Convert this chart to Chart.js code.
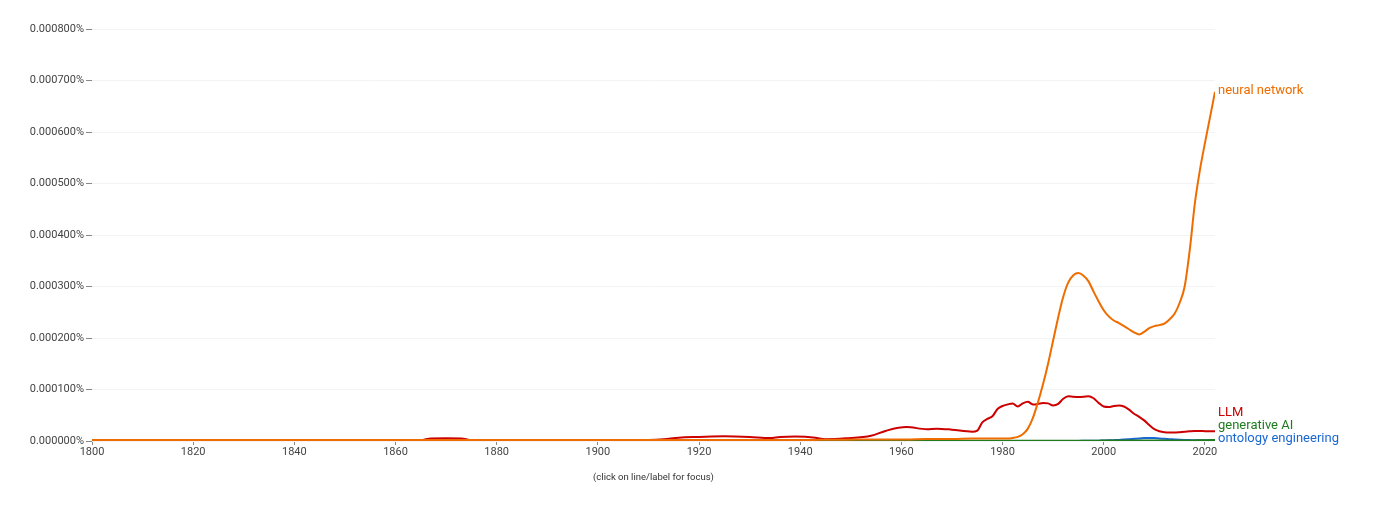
<!DOCTYPE html>
<html>
<head>
<meta charset="utf-8">
<script src="https://cdn.jsdelivr.net/npm/chart.js@4/dist/chart.umd.min.js"></script>
<style>
  html, body { margin: 0; padding: 0; background: #fff; }
  #wrap { width: 1400px; height: 517px; }
</style>
</head>
<body>
<div id="wrap"><canvas id="ngram" width="1400" height="517"></canvas></div>
<script>
// years (denser where the curves move)
const years = [
  1800, 1810, 1820, 1830, 1840, 1850, 1860, 1865, 1867, 1870, 1873, 1875, 1880, 1890,
  1900, 1905, 1910, 1913, 1916, 1920, 1925, 1930, 1934, 1936, 1939, 1941, 1943, 1945, 1949,
  1954, 1957, 1961, 1965, 1967, 1970, 1974, 1975, 1976, 1977, 1978, 1979,
  1980, 1981, 1982, 1983, 1984, 1985, 1986, 1987, 1988, 1989, 1990, 1991, 1992, 1993, 1994, 1995, 1996, 1997, 1998, 1999,
  2000, 2001, 2002, 2003, 2004, 2005, 2006, 2007, 2008, 2009, 2010, 2011, 2012, 2013, 2014, 2015, 2016, 2017, 2018, 2019, 2020, 2021, 2022
];

// values in percent
const neuralNetwork = [
  0.000002, 0.000002, 0.000002, 0.000002, 0.000002, 0.000002, 0.000002, 0.000002, 0.000002, 0.000002, 0.000002, 0.000002, 0.000002, 0.000002,
  0.000002, 0.000002, 0.000002, 0.000002, 0.000002, 0.000002, 0.000002, 0.000002, 0.000002, 0.000002, 0.000002, 0.000002, 0.000002, 0.0000025, 0.0000025,
  0.000003, 0.000003, 0.000003, 0.000004, 0.000004, 0.000004, 0.000005, 0.000005, 0.000005, 0.000005, 0.000005, 0.000005,
  0.000005, 0.000005, 0.000006, 0.000008, 0.000013, 0.000024, 0.000045, 0.000075, 0.000110, 0.000150, 0.000195, 0.000240, 0.000280, 0.000308, 0.000322, 0.000326, 0.000321, 0.000310, 0.000290, 0.000271,
  0.000254, 0.000242, 0.000234, 0.000229, 0.000223, 0.000217, 0.000211, 0.000207, 0.000212, 0.000219, 0.000223, 0.000225, 0.000228, 0.000236, 0.000247, 0.000268, 0.000300, 0.000370, 0.000460, 0.000525, 0.000578, 0.000628, 0.000678
];

const llm = [
  0.0000015, 0.0000015, 0.0000015, 0.0000015, 0.0000015, 0.0000015, 0.0000015, 0.0000015, 0.000005, 0.0000052, 0.000005, 0.0000015, 0.0000015, 0.0000012,
  0.0000012, 0.0000015, 0.000002, 0.0000035, 0.0000065, 0.0000078, 0.000009, 0.0000078, 0.0000058, 0.0000078, 0.0000088, 0.0000082, 0.0000065, 0.0000035, 0.0000052,
  0.00001, 0.00002, 0.000027, 0.000023, 0.000024, 0.000022, 0.000018, 0.00002, 0.000036, 0.000043, 0.000048, 0.000062,
  0.000068, 0.000071, 0.000073, 0.000067, 0.000073, 0.000076, 0.000071, 0.000072, 0.000074, 0.000073, 0.000069, 0.000072, 0.000082, 0.000087, 0.000086, 0.0000855, 0.000086, 0.000087, 0.000083, 0.000074,
  0.000067, 0.000066, 0.000068, 0.000069, 0.000067, 0.000061, 0.000053, 0.000047, 0.000040, 0.000031, 0.000023, 0.000019, 0.000017, 0.0000165, 0.0000165, 0.000017, 0.0000178, 0.0000188, 0.0000194, 0.0000194, 0.000019, 0.0000188, 0.0000188
];

const generativeAI = [
  0, 0, 0, 0, 0, 0, 0, 0, 0, 0, 0, 0, 0, 0,
  0, 0, 0, 0, 0, 0, 0, 0, 0, 0, 0, 0, 0, 0, 0,
  0, 0, 0, 0, 0, 0, 0.0000005, 0.0000005, 0.0000005, 0.0000005, 0.0000005, 0.0000005,
  0.0000006, 0.0000006, 0.0000006, 0.0000006, 0.0000006, 0.0000006, 0.0000006, 0.0000006, 0.0000006, 0.0000006, 0.0000006, 0.0000006, 0.0000006, 0.0000006, 0.0000006, 0.0000006, 0.0000006, 0.0000006, 0.0000006, 0.0000006,
  0.000001, 0.000001, 0.000001, 0.000001, 0.000001, 0.000001, 0.000001, 0.000001, 0.000001, 0.000001, 0.000001, 0.000001, 0.000001, 0.000001, 0.000001, 0.000001, 0.000001, 0.000001, 0.0000012, 0.0000014, 0.0000015, 0.0000017, 0.0000018
];

const ontologyEngineering = [
  0, 0, 0, 0, 0, 0, 0, 0, 0, 0, 0, 0, 0, 0,
  0, 0, 0, 0, 0, 0, 0, 0, 0, 0, 0, 0, 0, 0, 0,
  0, 0, 0, 0, 0, 0, 0, 0, 0, 0, 0, 0,
  0, 0, 0, 0, 0, 0, 0, 0, 0, 0, 0, 0, 0, 0, 0, 0.0000002, 0.0000003, 0.0000004, 0.0000005, 0.0000007,
  0.000001, 0.0000013, 0.0000017, 0.0000021, 0.0000027, 0.0000034, 0.0000042, 0.000005, 0.0000056, 0.0000058, 0.0000056, 0.000005, 0.0000042, 0.0000035, 0.000003, 0.0000025, 0.0000021, 0.0000018, 0.0000015, 0.0000014, 0.0000013, 0.0000012, 0.0000012
];

const seriesNames = ['neural network', 'generative AI', 'LLM', 'ontology engineering'];
const seriesColors = ['#ef6c00', '#1e7b1e', '#cc0000', '#1a67d2'];
const seriesValues = [neuralNetwork, generativeAI, llm, ontologyEngineering];

const yTicks = [0, 0.0001, 0.0002, 0.0003, 0.0004, 0.0005, 0.0006, 0.0007, 0.0008];
const xTicks = [1800, 1820, 1840, 1860, 1880, 1900, 1920, 1940, 1960, 1980, 2000, 2020];

const FONT = 'Roboto, "Noto Sans", sans-serif';

// series names written next to the line ends, pushed apart when they collide
const endLabels = {
  id: 'endLabels',
  afterDatasetsDraw(chart) {
    const ctx = chart.ctx;
    const items = chart.data.datasets.map((ds, i) => {
      const pts = chart.getDatasetMeta(i).data;
      const last = pts[pts.length - 1];
      return { text: ds.label, color: ds.borderColor, x: last.x, y: last.y - 1.5, v: ds.data[ds.data.length - 1].y };
    });
    items.sort((a, b) => b.v - a.v); // top first
    const gap = 13;
    let prev = Infinity;
    for (let i = items.length - 1; i >= 0; i--) {
      items[i].y = Math.min(items[i].y, prev - gap);
      prev = items[i].y;
    }
    ctx.save();
    ctx.font = '13px ' + FONT;
    ctx.textAlign = 'left';
    ctx.textBaseline = 'middle';
    items.forEach(it => {
      ctx.fillStyle = it.color;
      ctx.fillText(it.text, it.x + 3, it.y);
    });
    ctx.restore();
  }
};

new Chart(document.getElementById('ngram'), {
  type: 'line',
  data: {
    datasets: seriesNames.map((name, i) => ({
      label: name,
      data: years.map((yr, k) => ({ x: yr, y: seriesValues[i][k] })),
      borderColor: seriesColors[i],
      borderWidth: 2,
      pointRadius: 0,
      fill: false,
      cubicInterpolationMode: 'monotone'
    }))
  },
  options: {
    responsive: false,
    animation: false,
    events: [],
    layout: { padding: { left: 0, right: 185, top: 29, bottom: 0 } },
    plugins: {
      legend: { display: false },
      tooltip: { enabled: false }
    },
    scales: {
      x: {
        type: 'linear',
        min: 1800,
        max: 2022,
        afterBuildTicks: s => { s.ticks = xTicks.map(v => ({ value: v })); },
        afterFit: s => { s.height = 76; },
        ticks: {
          callback: v => String(v),
          color: '#444',
          padding: 1,
          maxRotation: 0,
          font: { family: FONT, size: 11 }
        },
        grid: { drawOnChartArea: false, drawTicks: true, tickLength: 4, tickColor: '#888' },
        border: { display: false },
        title: {
          display: true,
          text: '(click on line/label for focus)',
          color: '#333',
          font: { family: FONT, size: 9.5 },
          padding: { top: 0, bottom: 34 }
        }
      },
      y: {
        min: 0,
        max: 0.0008,
        afterBuildTicks: s => { s.ticks = yTicks.map(v => ({ value: v })); },
        afterFit: s => { s.width = 92; },
        ticks: {
          callback: v => v.toFixed(6) + '%',
          color: '#444',
          padding: 2,
          font: { family: FONT, size: 11 }
        },
        grid: { color: '#f3f3f3', tickColor: '#888', tickLength: 6 },
        border: { display: false }
      }
    }
  },
  plugins: [endLabels]
});
</script>
</body>
</html>
